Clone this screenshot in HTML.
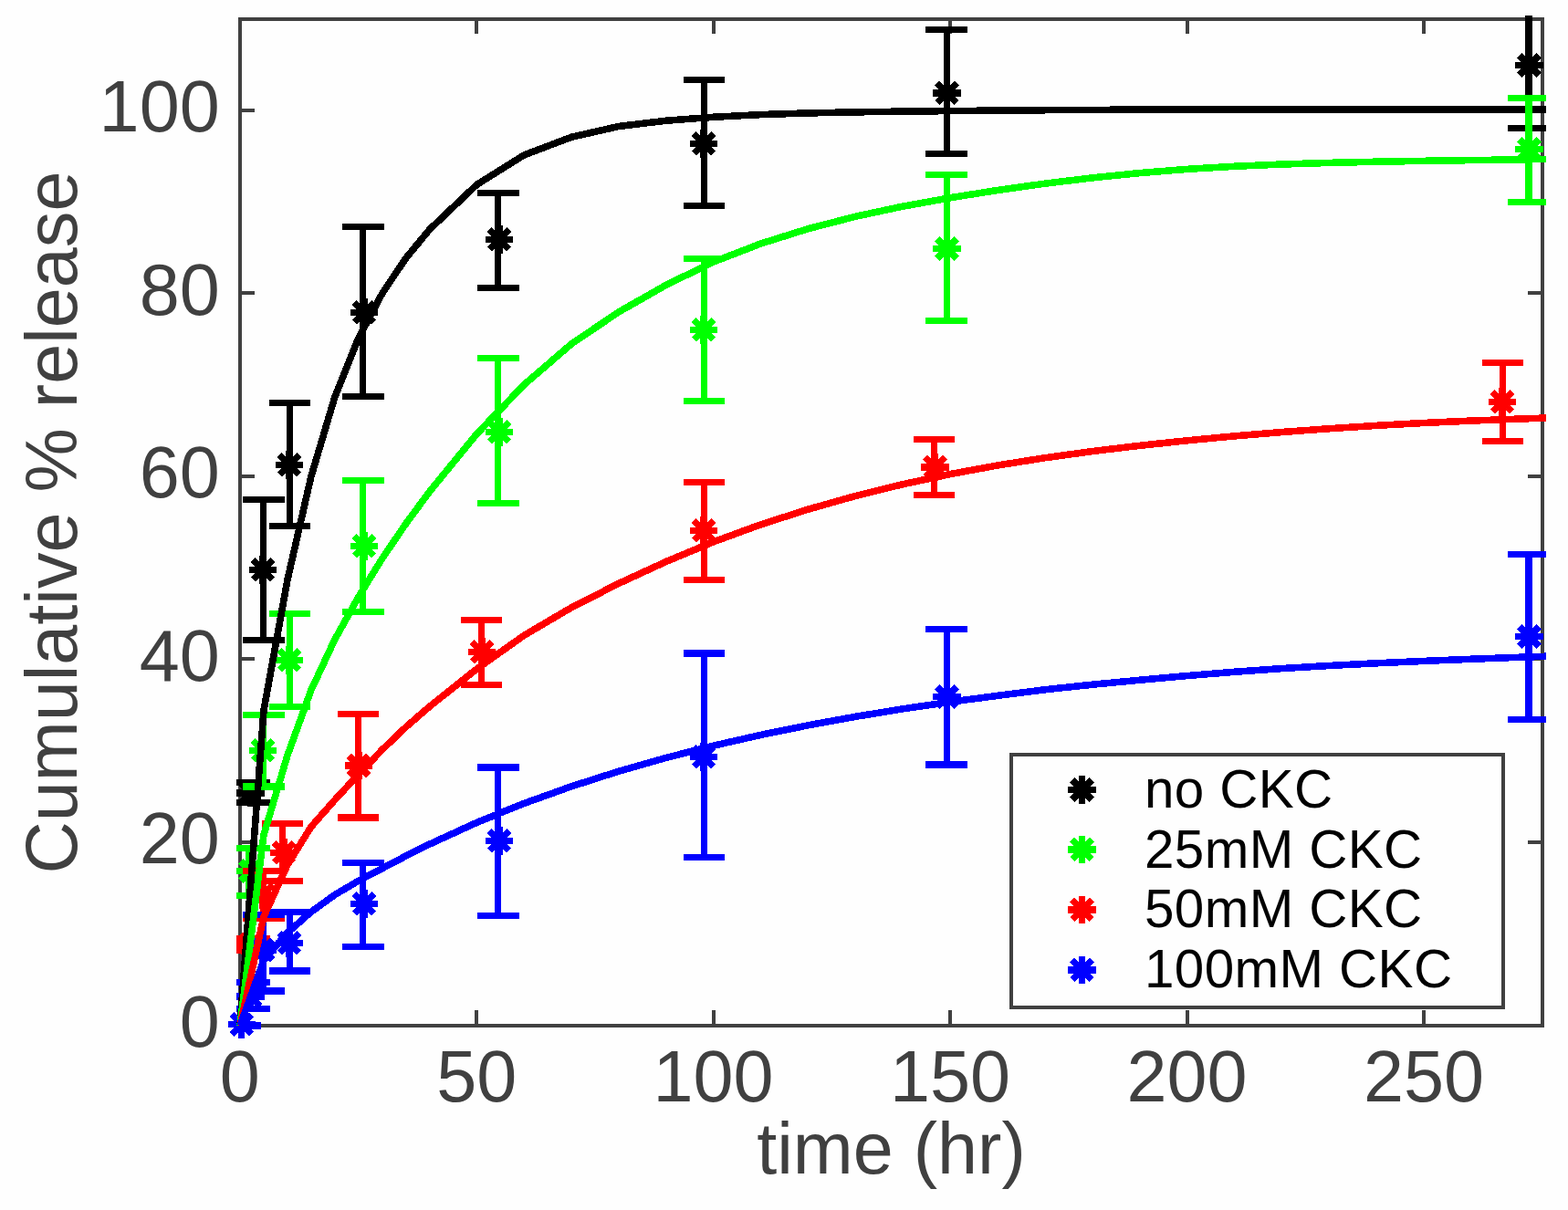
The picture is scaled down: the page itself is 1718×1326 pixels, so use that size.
<!DOCTYPE html>
<html lang="en"><head><meta charset="utf-8"><title>Cumulative % release vs time</title>
<style>html,body{margin:0;padding:0;background:#fff}svg{display:block}text{font-family:"Liberation Sans",sans-serif}.tk{font-size:79.17px;fill:#404040}.lg{font-size:58.33px;fill:#000;letter-spacing:0.4px}</style></head><body>
<svg width="1718" height="1326" viewBox="0 0 1718 1326">
<rect x="0" y="0" width="1718" height="1326" fill="#fefefe"/>
<defs><clipPath id="ax"><rect x="259" y="17" width="1435" height="1111"/></clipPath></defs>
<g shape-rendering="crispEdges" fill="none" stroke="#404040" stroke-width="4"><rect x="263" y="21" width="1427" height="1103"/><path d="M263 1124V1107M263 21V37M522 1124V1107M522 21V37M782 1124V1107M782 21V37M1041 1124V1107M1041 21V37M1301 1124V1107M1301 21V37M1560 1124V1107M1560 21V37M263 1124H279M1690 1124H1674M263 923H279M1690 923H1674M263 722H279M1690 722H1674M263 522H279M1690 522H1674M263 321H279M1690 321H1674M263 121H279M1690 121H1674"/></g>
<text class="tk" x="262.7" y="1207" text-anchor="middle">0</text>
<text class="tk" x="522.15" y="1207" text-anchor="middle">50</text>
<text class="tk" x="781.61" y="1207" text-anchor="middle">100</text>
<text class="tk" x="1041.06" y="1207" text-anchor="middle">150</text>
<text class="tk" x="1300.52" y="1207" text-anchor="middle">200</text>
<text class="tk" x="1559.97" y="1207" text-anchor="middle">250</text>
<text class="tk" x="240.7" y="1146.9" text-anchor="end">0</text>
<text class="tk" x="240.7" y="945.9" text-anchor="end">20</text>
<text class="tk" x="240.7" y="745.9" text-anchor="end">40</text>
<text class="tk" x="240.7" y="544.9" text-anchor="end">60</text>
<text class="tk" x="240.7" y="344.9" text-anchor="end">80</text>
<text class="tk" x="240.7" y="143.9" text-anchor="end">100</text>
<text class="tk" x="976.5" y="1285.9" text-anchor="middle">time (hr)</text>
<text class="tk" transform="translate(84.2 572.5) rotate(-90)" text-anchor="middle">Cumulative % release</text>
<g shape-rendering="crispEdges">
<g clip-path="url(#ax)"><path d="M263.5 1124V1124M241 1124H286M241 1124H286" stroke="#000000" stroke-width="7.3" fill="none"/><path d="M272.5 857.5V879.5M250 857.5H296M250 879.5H296" stroke="#000000" stroke-width="7.3" fill="none"/><path d="M288.5 547.5V701.5M266 547.5H312M266 701.5H312" stroke="#000000" stroke-width="7.3" fill="none"/><path d="M317.5 441.5V576.5M295 441.5H340M295 576.5H340" stroke="#000000" stroke-width="7.3" fill="none"/></g>
<path d="M249.5 1122.5H279.9M264.7 1107.3V1137.7M253.95 1111.75L275.45 1133.25M253.95 1133.25L275.45 1111.75" stroke="#000000" stroke-width="7.3" fill="none"/>
<path d="M259.3 869H289.7M274.5 853.8V884.2M263.75 858.25L285.25 879.75M263.75 879.75L285.25 858.25" stroke="#000000" stroke-width="7.3" fill="none"/>
<path d="M272.8 624.5H303.2M288 609.3V639.7M277.25 613.75L298.75 635.25M277.25 635.25L298.75 613.75" stroke="#000000" stroke-width="7.3" fill="none"/>
<path d="M301.8 509.5H332.2M317 494.3V524.7M306.25 498.75L327.75 520.25M306.25 520.25L327.75 498.75" stroke="#000000" stroke-width="7.3" fill="none"/>
<g clip-path="url(#ax)"><path d="M263.5 1124V1124M241 1124H286M241 1124H286" stroke="#00ff00" stroke-width="7.3" fill="none"/><path d="M272.5 929.5V981.5M250 929.5H296M250 981.5H296" stroke="#00ff00" stroke-width="7.3" fill="none"/><path d="M288.5 783.5V862M266 783.5H312M266 862H312" stroke="#00ff00" stroke-width="7.3" fill="none"/><path d="M317.5 672.5V774.5M295 672.5H340M295 774.5H340" stroke="#00ff00" stroke-width="7.3" fill="none"/></g>
<path d="M249.5 1122.5H279.9M264.7 1107.3V1137.7M253.95 1111.75L275.45 1133.25M253.95 1133.25L275.45 1111.75" stroke="#00ff00" stroke-width="7.3" fill="none"/>
<path d="M259.3 954.5H289.7M274.5 939.3V969.7M263.75 943.75L285.25 965.25M263.75 965.25L285.25 943.75" stroke="#00ff00" stroke-width="7.3" fill="none"/>
<path d="M272.8 822.5H303.2M288 807.3V837.7M277.25 811.75L298.75 833.25M277.25 833.25L298.75 811.75" stroke="#00ff00" stroke-width="7.3" fill="none"/>
<path d="M301.8 723.5H332.2M317 708.3V738.7M306.25 712.75L327.75 734.25M306.25 734.25L327.75 712.75" stroke="#00ff00" stroke-width="7.3" fill="none"/>
<g clip-path="url(#ax)"><path d="M263.5 1124V1124M241 1124H286M241 1124H286" stroke="#ff0000" stroke-width="7.3" fill="none"/><path d="M272.5 1028.5V1041.5M250 1028.5H296M250 1041.5H296" stroke="#ff0000" stroke-width="7.3" fill="none"/><path d="M288.5 954.5V1006.5M266 954.5H312M266 1006.5H312" stroke="#ff0000" stroke-width="7.3" fill="none"/><path d="M309.5 902.5V965.5M287 902.5H332M287 965.5H332" stroke="#ff0000" stroke-width="7.3" fill="none"/></g>
<path d="M249.5 1122.5H279.9M264.7 1107.3V1137.7M253.95 1111.75L275.45 1133.25M253.95 1133.25L275.45 1111.75" stroke="#ff0000" stroke-width="7.3" fill="none"/>
<path d="M259.3 1035H289.7M274.5 1019.8V1050.2M263.75 1024.25L285.25 1045.75M263.75 1045.75L285.25 1024.25" stroke="#ff0000" stroke-width="7.3" fill="none"/>
<path d="M272.8 980.5H303.2M288 965.3V995.7M277.25 969.75L298.75 991.25M277.25 991.25L298.75 969.75" stroke="#ff0000" stroke-width="7.3" fill="none"/>
<path d="M295.8 934.5H326.2M311 919.3V949.7M300.25 923.75L321.75 945.25M300.25 945.25L321.75 923.75" stroke="#ff0000" stroke-width="7.3" fill="none"/>
<g clip-path="url(#ax)"><path d="M263.5 1124V1124M241 1124H286M241 1124H286" stroke="#0000ff" stroke-width="7.3" fill="none"/><path d="M272.5 1076.5V1105.5M250 1076.5H296M250 1105.5H296" stroke="#0000ff" stroke-width="7.3" fill="none"/><path d="M288.5 1002.5V1086M266 1002.5H312M266 1086H312" stroke="#0000ff" stroke-width="7.3" fill="none"/><path d="M317.5 999.5V1064M295 999.5H340M295 1064H340" stroke="#0000ff" stroke-width="7.3" fill="none"/></g>
<path d="M249.5 1122.5H279.9M264.7 1107.3V1137.7M253.95 1111.75L275.45 1133.25M253.95 1133.25L275.45 1111.75" stroke="#0000ff" stroke-width="7.3" fill="none"/>
<path d="M259.3 1092H289.7M274.5 1076.8V1107.2M263.75 1081.25L285.25 1102.75M263.75 1102.75L285.25 1081.25" stroke="#0000ff" stroke-width="7.3" fill="none"/>
<path d="M272.8 1041H303.2M288 1025.8V1056.2M277.25 1030.25L298.75 1051.75M277.25 1051.75L298.75 1030.25" stroke="#0000ff" stroke-width="7.3" fill="none"/>
<path d="M301.8 1033.5H332.2M317 1018.3V1048.7M306.25 1022.75L327.75 1044.25M306.25 1044.25L327.75 1022.75" stroke="#0000ff" stroke-width="7.3" fill="none"/>
<g clip-path="url(#ax)"><polyline points="263,1124 288.95,778.78 314.89,635.8 340.84,522.32 366.78,435.13 392.73,370.69 418.67,321.87 444.62,283.04 470.56,251.59 522.45,202.31 574.35,169.86 626.24,150.21 678.13,138.45 730.02,132.2 781.91,128.29 833.8,125.59 885.69,123.91 937.58,122.84 989.47,122.12 1041.36,121.56 1093.25,121.1 1145.15,120.71 1197.04,120.39 1248.93,120.16 1300.82,120.02 1352.71,119.99 1404.6,119.97 1456.49,119.97 1508.38,119.98 1560.27,119.99 1612.16,120 1664.05,120 1715.95,120" stroke="#000000" stroke-width="7.6" fill="none"/><polyline points="263,1124 288.95,914.94 314.89,828.12 340.84,756.37 366.78,700.89 392.73,654.19 418.67,612.16 444.62,574.05 470.56,538.85 522.45,475.44 574.35,421.5 626.24,376.79 678.13,341.75 730.02,312.25 781.91,286.94 833.8,266.93 885.69,250.61 937.58,237.22 989.47,226.11 1041.36,216.69 1093.25,208.44 1145.15,201.15 1197.04,194.85 1248.93,189.56 1300.82,185.36 1352.71,182.28 1404.6,180.02 1456.49,178.4 1508.38,177.22 1560.27,176.34 1612.16,175.61 1664.05,174.9 1715.95,174.1" stroke="#00ff00" stroke-width="7.6" fill="none"/><polyline points="263,1124 288.95,1004.57 314.89,947.92 340.84,906.09 366.78,876.67 392.73,848.78 418.67,821.65 444.62,796.86 470.56,774.33 522.45,733.05 574.35,696.21 626.24,665.73 678.13,639.28 730.02,615.4 781.91,593.73 833.8,574.78 885.69,558.09 937.58,543.43 989.47,530.63 1041.36,519.52 1093.25,509.95 1145.15,501.69 1197.04,494.54 1248.93,488.3 1300.82,482.79 1352.71,477.87 1404.6,473.53 1456.49,469.7 1508.38,466.36 1560.27,463.48 1612.16,461.09 1664.05,459.14 1715.95,457.15" stroke="#ff0000" stroke-width="7.6" fill="none"/><polyline points="263,1124 288.95,1052.21 314.89,1022.21 340.84,999.37 366.78,980.66 392.73,965.34 418.67,951.74 444.62,938.11 470.56,925.14 522.45,901.38 574.35,880.33 626.24,861.78 678.13,845.16 730.02,830.36 781.91,817.15 833.8,805.34 885.69,794.77 937.58,785.3 989.47,776.82 1041.36,769.2 1093.25,762.34 1145.15,755.73 1197.04,750.21 1248.93,745.25 1300.82,740.56 1352.71,736.29 1404.6,732.6 1456.49,729.48 1508.38,726.78 1560.27,724.41 1612.16,722.28 1664.05,720.31 1715.95,718.45" stroke="#0000ff" stroke-width="7.6" fill="none"/></g>
<g clip-path="url(#ax)"><path d="M397.5 248.5V434.5M375 248.5H421M375 434.5H421" stroke="#000000" stroke-width="7.3" fill="none"/><path d="M545.5 211.5V315.5M523 211.5H569M523 315.5H569" stroke="#000000" stroke-width="7.3" fill="none"/><path d="M771.5 87.5V225.5M749 87.5H794M749 225.5H794" stroke="#000000" stroke-width="7.3" fill="none"/><path d="M1037.5 32.5V168.5M1014 32.5H1060M1014 168.5H1060" stroke="#000000" stroke-width="7.3" fill="none"/><path d="M1675 2.5V140.5" stroke="#000000" stroke-width="8" fill="none"/><path d="M1652 2.5H1698M1652 140.5H1698" stroke="#000000" stroke-width="7.3" fill="none"/></g>
<path d="M383.8 342.5H414.2M399 327.3V357.7M388.25 331.75L409.75 353.25M388.25 353.25L409.75 331.75" stroke="#000000" stroke-width="7.3" fill="none"/>
<path d="M531.8 262.5H562.2M547 247.3V277.7M536.25 251.75L557.75 273.25M536.25 273.25L557.75 251.75" stroke="#000000" stroke-width="7.3" fill="none"/>
<path d="M755.8 157.5H786.2M771 142.3V172.7M760.25 146.75L781.75 168.25M760.25 168.25L781.75 146.75" stroke="#000000" stroke-width="7.3" fill="none"/>
<path d="M1022.3 102H1052.7M1037.5 86.8V117.2M1026.75 91.25L1048.25 112.75M1026.75 112.75L1048.25 91.25" stroke="#000000" stroke-width="7.3" fill="none"/>
<path d="M1660.3 71.5H1690.7M1675.5 56.3V86.7M1664.75 60.75L1686.25 82.25M1664.75 82.25L1686.25 60.75" stroke="#000000" stroke-width="7.3" fill="none"/>
<g clip-path="url(#ax)"><path d="M397.5 526.5V670.5M375 526.5H421M375 670.5H421" stroke="#00ff00" stroke-width="7.3" fill="none"/><path d="M545.5 392.5V551.5M523 392.5H569M523 551.5H569" stroke="#00ff00" stroke-width="7.3" fill="none"/><path d="M771.5 283.5V439.5M749 283.5H794M749 439.5H794" stroke="#00ff00" stroke-width="7.3" fill="none"/><path d="M1037.5 191.5V351.5M1014 191.5H1060M1014 351.5H1060" stroke="#00ff00" stroke-width="7.3" fill="none"/><path d="M1675 107.5V221.5" stroke="#00ff00" stroke-width="8" fill="none"/><path d="M1652 107.5H1698M1652 221.5H1698" stroke="#00ff00" stroke-width="7.3" fill="none"/></g>
<path d="M383.8 598.5H414.2M399 583.3V613.7M388.25 587.75L409.75 609.25M388.25 609.25L409.75 587.75" stroke="#00ff00" stroke-width="7.3" fill="none"/>
<path d="M531.8 473.5H562.2M547 458.3V488.7M536.25 462.75L557.75 484.25M536.25 484.25L557.75 462.75" stroke="#00ff00" stroke-width="7.3" fill="none"/>
<path d="M755.8 361.5H786.2M771 346.3V376.7M760.25 350.75L781.75 372.25M760.25 372.25L781.75 350.75" stroke="#00ff00" stroke-width="7.3" fill="none"/>
<path d="M1022.3 272.5H1052.7M1037.5 257.3V287.7M1026.75 261.75L1048.25 283.25M1026.75 283.25L1048.25 261.75" stroke="#00ff00" stroke-width="7.3" fill="none"/>
<path d="M1660.3 163.5H1690.7M1675.5 148.3V178.7M1664.75 152.75L1686.25 174.25M1664.75 174.25L1686.25 152.75" stroke="#00ff00" stroke-width="7.3" fill="none"/>
<g clip-path="url(#ax)"><path d="M392.5 782.5V896M370 782.5H415M370 896H415" stroke="#ff0000" stroke-width="7.3" fill="none"/><path d="M527.5 679.5V750.5M505 679.5H550M505 750.5H550" stroke="#ff0000" stroke-width="7.3" fill="none"/><path d="M771.5 528.5V635.5M749 528.5H794M749 635.5H794" stroke="#ff0000" stroke-width="7.3" fill="none"/><path d="M1023.5 481.5V542.5M1001 481.5H1046M1001 542.5H1046" stroke="#ff0000" stroke-width="7.3" fill="none"/><path d="M1646.5 397.5V483.5M1624 397.5H1669M1624 483.5H1669" stroke="#ff0000" stroke-width="7.3" fill="none"/></g>
<path d="M377.8 839H408.2M393 823.8V854.2M382.25 828.25L403.75 849.75M382.25 849.75L403.75 828.25" stroke="#ff0000" stroke-width="7.3" fill="none"/>
<path d="M512.8 714.5H543.2M528 699.3V729.7M517.25 703.75L538.75 725.25M517.25 725.25L538.75 703.75" stroke="#ff0000" stroke-width="7.3" fill="none"/>
<path d="M755.8 581.5H786.2M771 566.3V596.7M760.25 570.75L781.75 592.25M760.25 592.25L781.75 570.75" stroke="#ff0000" stroke-width="7.3" fill="none"/>
<path d="M1009.3 512H1039.7M1024.5 496.8V527.2M1013.75 501.25L1035.25 522.75M1013.75 522.75L1035.25 501.25" stroke="#ff0000" stroke-width="7.3" fill="none"/>
<path d="M1630.8 440.5H1661.2M1646 425.3V455.7M1635.25 429.75L1656.75 451.25M1635.25 451.25L1656.75 429.75" stroke="#ff0000" stroke-width="7.3" fill="none"/>
<g clip-path="url(#ax)"><path d="M397.5 945.5V1037.5M375 945.5H421M375 1037.5H421" stroke="#0000ff" stroke-width="7.3" fill="none"/><path d="M545.5 841V1003.5M523 841H569M523 1003.5H569" stroke="#0000ff" stroke-width="7.3" fill="none"/><path d="M771.5 716V939.5M749 716H794M749 939.5H794" stroke="#0000ff" stroke-width="7.3" fill="none"/><path d="M1037.5 689.5V838M1014 689.5H1060M1014 838H1060" stroke="#0000ff" stroke-width="7.3" fill="none"/><path d="M1675 607.5V788.5" stroke="#0000ff" stroke-width="8" fill="none"/><path d="M1652 607.5H1698M1652 788.5H1698" stroke="#0000ff" stroke-width="7.3" fill="none"/></g>
<path d="M383.8 990.5H414.2M399 975.3V1005.7M388.25 979.75L409.75 1001.25M388.25 1001.25L409.75 979.75" stroke="#0000ff" stroke-width="7.3" fill="none"/>
<path d="M531.8 921.5H562.2M547 906.3V936.7M536.25 910.75L557.75 932.25M536.25 932.25L557.75 910.75" stroke="#0000ff" stroke-width="7.3" fill="none"/>
<path d="M755.8 829.5H786.2M771 814.3V844.7M760.25 818.75L781.75 840.25M760.25 840.25L781.75 818.75" stroke="#0000ff" stroke-width="7.3" fill="none"/>
<path d="M1022.3 763.5H1052.7M1037.5 748.3V778.7M1026.75 752.75L1048.25 774.25M1026.75 774.25L1048.25 752.75" stroke="#0000ff" stroke-width="7.3" fill="none"/>
<path d="M1660.3 697.5H1690.7M1675.5 682.3V712.7M1664.75 686.75L1686.25 708.25M1664.75 708.25L1686.25 686.75" stroke="#0000ff" stroke-width="7.3" fill="none"/>
</g>
<rect x="1108" y="827" width="539" height="277" fill="#fefefe" stroke="#404040" stroke-width="4" shape-rendering="crispEdges"/>
<g shape-rendering="crispEdges">
<path d="M1170.3 865.5H1200.7M1185.5 850.3V880.7M1174.75 854.75L1196.25 876.25M1174.75 876.25L1196.25 854.75" stroke="#000000" stroke-width="7.3" fill="none"/>
<path d="M1170.3 931H1200.7M1185.5 915.8V946.2M1174.75 920.25L1196.25 941.75M1174.75 941.75L1196.25 920.25" stroke="#00ff00" stroke-width="7.3" fill="none"/>
<path d="M1170.3 997H1200.7M1185.5 981.8V1012.2M1174.75 986.25L1196.25 1007.75M1174.75 1007.75L1196.25 986.25" stroke="#ff0000" stroke-width="7.3" fill="none"/>
<path d="M1170.3 1063H1200.7M1185.5 1047.8V1078.2M1174.75 1052.25L1196.25 1073.75M1174.75 1073.75L1196.25 1052.25" stroke="#0000ff" stroke-width="7.3" fill="none"/>
</g>
<text class="lg" x="1254" y="884.9">no CKC</text>
<text class="lg" x="1254" y="951">25mM CKC</text>
<text class="lg" x="1254" y="1016.1">50mM CKC</text>
<text class="lg" x="1254" y="1081.6">100mM CKC</text>
</svg></body></html>
